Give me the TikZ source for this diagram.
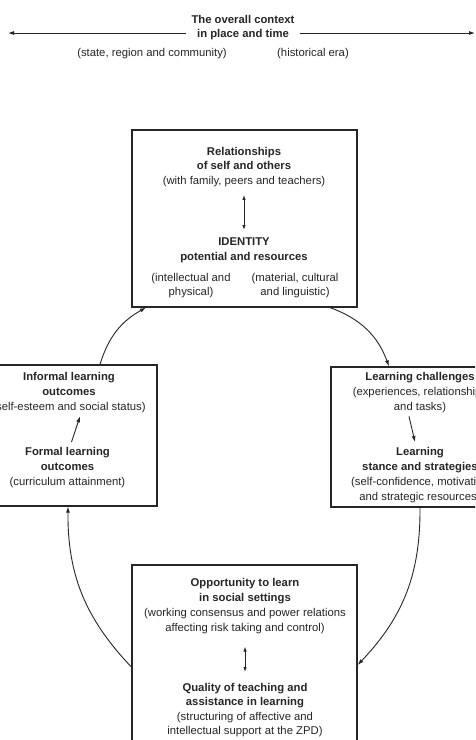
\documentclass[tikz,border=0pt]{standalone}
\usepackage{fontspec}
\setmainfont{Liberation Sans}
\usetikzlibrary{arrows.meta,calc}
\definecolor{ink}{HTML}{262626}
\tikzset{
  box/.style={draw=ink, line width=1.2pt, inner sep=0pt},
  txt/.style={align=center, inner sep=0pt, anchor=north, text=ink,
    font=\fontsize{11.3}{14.5}\selectfont},
  txtw/.style={txt, font=\fontsize{11.3}{15.2}\selectfont},
  arr/.style={draw=ink, line width=0.9pt, -{Latex[length=6pt,width=4pt]}},
  darr/.style={draw=ink, line width=0.9pt, {Latex[length=5pt,width=3.5pt]}-{Latex[length=5pt,width=3.5pt]}},
}
\begin{document}
\begin{tikzpicture}[x=1pt,y=-1pt]
\useasboundingbox (0,0) rectangle (475,740);
\clip (0,0) rectangle (475,740);
\fill[white] (0,0) rectangle (475,740);

% overall context
\node[txt] (ctx) at (243,15) {\textbf{The overall context}\\\textbf{in place and time}};
\coordinate (ctxL) at (8,33);
\coordinate (ctxR) at (475,33);
\draw[arr] ([xshift=-5pt]ctx.west |- ctxL) -- (ctxL);
\draw[arr] ([xshift=5pt]ctx.east |- ctxR) -- (ctxR);
\node[txt] (place) at (152,48) {(state, region and community)};
\node[txt] (era) at (313,48) {(historical era)};

% boxes
\node[box, minimum width=225, minimum height=177] (top) at (244.5,218.5) {};
\node[box, minimum width=176, minimum height=141] (left) at (69,435.5) {};
\node[box, minimum width=178, minimum height=140] (right) at (420,437) {};
\node[box, minimum width=225, minimum height=200] (bottom) at (244.5,665) {};

% top box text
\node[txt] (rel) at (244,147) {\textbf{Relationships}\\\textbf{of self and others}\\(with family, peers and teachers)};
\node[txt] (id) at (244,238) {\textbf{IDENTITY}\\\textbf{potential and resources}};
\node[txt] (intel) at (191,273) {(intellectual and\\physical)};
\node[txt] (mat) at (295,273) {(material, cultural\\and linguistic)};
\draw[darr] ([yshift=-8pt]rel.south) -- ([yshift=8pt]id.north);

% left box text
\node[txtw] (inf) at (69,372) {\textbf{Informal learning}\\\textbf{outcomes}\\(self-esteem and social status)};
\node[txtw] (formal) at (67.5,447) {\textbf{Formal learning}\\\textbf{outcomes}\\(curriculum attainment)};
\draw[arr] ([xshift=4pt,yshift=5pt]formal.north) -- ([xshift=11pt,yshift=-3pt]inf.south);

% right box text
\node[txtw] (chal) at (420,372) {\textbf{Learning challenges}\\(experiences, relationships\\and tasks)};
\node[txtw] (stance) at (420,447) {\textbf{Learning}\\\textbf{stance and strategies}\\(self-confidence, motivation\\and strategic resources)};
\draw[arr] ([xshift=-11pt,yshift=-3pt]chal.south) -- ([xshift=-5pt,yshift=5pt]stance.north);

% bottom box text
\node[txtw] (opp) at (245,578) {\textbf{Opportunity to learn}\\\textbf{in social settings}\\(working consensus and power relations\\affecting risk taking and control)};
\node[txt] (qual) at (245,683) {\textbf{Quality of teaching and}\\\textbf{assistance in learning}\\(structuring of affective and\\intellectual support at the ZPD)};
\draw[darr] ([yshift=-12pt]opp.south) -- ([yshift=11pt]qual.north);

% cycle arrows
\draw[arr] (left.north -| 100,0) to[bend left=22] (top.south -| 146,0);
\draw[arr] (top.south -| 330,0) to[bend left=25] (right.north -| 389,0);
\draw[arr] (right.south -| 420,0) to[bend left=22] (bottom.east |- 0,665);
\draw[arr] (bottom.west |- 0,667) to[bend left=22] (left.south -| 68,0);
\end{tikzpicture}
\end{document}
